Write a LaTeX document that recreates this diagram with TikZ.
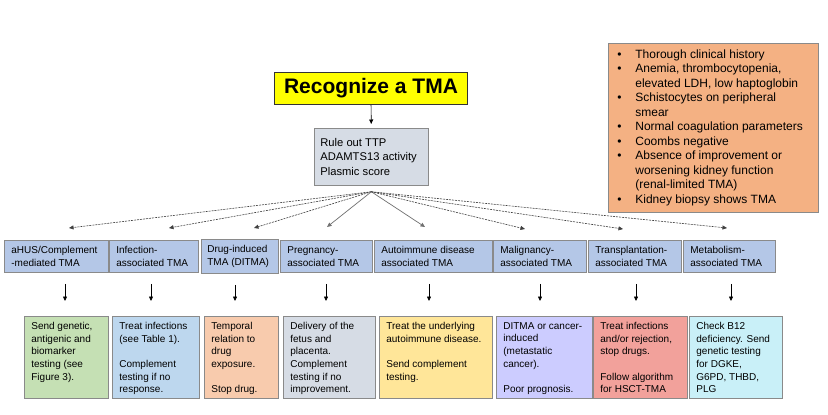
\documentclass[tikz,border=0pt]{standalone}
\usepackage{fontspec}
\setmainfont{Liberation Sans}
\usetikzlibrary{arrows.meta}
\definecolor{edge}{HTML}{8A8A8A}
\definecolor{catblue}{HTML}{B4C7E7}
\definecolor{rulefill}{HTML}{D6DCE5}
\definecolor{orangefill}{HTML}{F4B183}
\definecolor{recyellow}{HTML}{FFFF00}
\definecolor{cGreen}{HTML}{C5E0B4}
\definecolor{cBlue}{HTML}{BDD7EE}
\definecolor{cPeach}{HTML}{F8CBAD}
\definecolor{cGrey}{HTML}{D6DCE5}
\definecolor{cYellow}{HTML}{FFE699}
\definecolor{cLav}{HTML}{CCCCFF}
\definecolor{cRed}{HTML}{F2A19B}
\definecolor{cCyan}{HTML}{C9F0F8}
\definecolor{dashgray}{HTML}{404040}
\definecolor{solidgray}{HTML}{707070}
\newcommand\pbx[5]{\parbox[c][#2][#3]{#1}{\raggedright\leftskip=#4\relax #5}}
\newcommand\itm[1]{\par\hangindent=27pt\hangafter=1\noindent\makebox[27pt][l]{\hspace{9pt}\textbullet}#1}
\begin{document}
\begin{tikzpicture}[x=1pt,y=-1pt,
  boxframe/.style={draw=edge, line width=0.75pt, inner xsep=0pt, inner ysep=0pt, anchor=north west},
  catbox/.style={boxframe, fill=catblue, font=\fontsize{10}{13.5}\selectfont},
  resbox/.style={boxframe, inner ysep=6pt, font=\fontsize{10}{12.6}\selectfont},
  tipA/.style={-{Triangle[length=4.5pt,width=4pt]}},
  varrow/.style={draw=black, line width=0.7pt, tipA},
  darrow/.style={draw=dashgray, line width=0.6pt, dash pattern=on 2pt off 1pt, tipA},
  sarrow/.style={draw=solidgray, line width=0.7pt, tipA}
]
\fill[white] (0,0) rectangle (828,415);
\useasboundingbox (0,0) rectangle (828,415);

% top
\node[boxframe, draw=black!80, line width=1pt, fill=recyellow, minimum width=193pt, minimum height=32pt,
      font=\bfseries\fontsize{21}{24}\selectfont] (rec) at (274,72) {Recognize a TMA};
\node[boxframe, fill=rulefill, font=\fontsize{11.2}{14.5}\selectfont] (rule) at (314,128)
  {\pbx{114pt}{57pt}{c}{6pt}{Rule out TTP\\ADAMTS13 activity\\Plasmic score}};
\draw[varrow, shorten >=4pt] (rec) -- (rule);

% orange criteria box
\node[boxframe, fill=orangefill, font=\fontsize{12}{14.5}\selectfont] (crit) at (608,43)
  {\parbox[c][169pt][c]{210pt}{\rightskip=0pt plus 1fil\parfillskip=0pt plus 1fil
   \itm{Thorough clinical history}
   \itm{Anemia, thrombocytopenia,\\elevated LDH, low haptoglobin}
   \itm{Schistocytes on peripheral\\smear}
   \itm{Normal coagulation parameters}
   \itm{Coombs negative}
   \itm{Absence of improvement or\\worsening kidney function\\(renal-limited TMA)}
   \itm{Kidney biopsy shows TMA}\par}};

% category boxes
\node[catbox] (c1) at (4,240)   {\pbx{104pt}{32pt}{c}{7pt}{aHUS/Complement\\-mediated TMA}};
\node[catbox] (c2) at (109,240) {\pbx{89pt}{32pt}{c}{7pt}{Infection-\\associated TMA}};
\node[catbox] (c3) at (201,239) {\pbx{77pt}{34pt}{c}{6pt}{Drug-induced\\TMA (DITMA)}};
\node[catbox] (c4) at (280,240) {\pbx{92pt}{32pt}{c}{7pt}{Pregnancy-\\associated TMA}};
\node[catbox] (c5) at (374,240) {\pbx{118pt}{32pt}{c}{7pt}{Autoimmune disease\\associated TMA}};
\node[catbox] (c6) at (493,240) {\pbx{93pt}{32pt}{c}{7pt}{Malignancy-\\associated TMA}};
\node[catbox] (c7) at (588,240) {\pbx{93pt}{32pt}{c}{7pt}{Transplantation-\\associated TMA}};
\node[catbox] (c8) at (683,240) {\pbx{92pt}{32pt}{c}{7pt}{Metabolism-\\associated TMA}};

% result boxes
\node[resbox, fill=cGreen] (b1) at (24,316)
  {\pbx{84pt}{70pt}{t}{7pt}{Send genetic,\\antigenic and\\biomarker\\testing (see\\Figure 3).}};
\node[resbox, fill=cBlue] (b2) at (112,316)
  {\pbx{87pt}{70pt}{t}{7pt}{Treat infections\\(see Table 1).\\[12.6pt]Complement\\testing if no\\response.}};
\node[resbox, fill=cPeach] (b3) at (204,316)
  {\pbx{74pt}{70pt}{t}{7pt}{Temporal\\relation to\\drug\\exposure.\\[12.6pt]Stop drug.}};
\node[resbox, fill=cGrey] (b4) at (283,316)
  {\pbx{92pt}{70pt}{t}{7pt}{Delivery of the\\fetus and\\placenta.\\Complement\\testing if no\\improvement.}};
\node[resbox, fill=cYellow] (b5) at (379,316)
  {\pbx{113pt}{70pt}{t}{7pt}{Treat the underlying\\autoimmune disease.\\[12.6pt]Send complement\\testing.}};
\node[resbox, fill=cLav] (b6) at (496,316)
  {\pbx{96pt}{70pt}{t}{7pt}{DITMA or cancer-\\induced\\(metastatic\\cancer).\\[12.6pt]Poor prognosis.}};
\node[resbox, fill=cRed] (b7) at (593,316)
  {\pbx{94pt}{70pt}{t}{7pt}{Treat infections\\and/or rejection,\\stop drugs.\\[12.6pt]Follow algorithm\\for HSCT-TMA}};
\node[resbox, fill=cCyan] (b8) at (689,316)
  {\pbx{93pt}{70pt}{t}{7pt}{Check B12\\deficiency. Send\\genetic testing\\for DGKE,\\G6PD, THBD,\\PLG}};

% fan-out arrows from the rule-out box
\coordinate (hub) at ([yshift=-6pt]rule.south);
\coordinate (e1) at (69,228);
\coordinate (e2) at (169,228);
\coordinate (e3) at (254,228);
\coordinate (e4) at (327,227);
\coordinate (e5) at (425,227);
\coordinate (e6) at (525,229);
\coordinate (e7) at (623,229);
\coordinate (e8) at (727,228);
\draw[darrow] (hub) -- (e1);
\draw[darrow] (hub) -- (e2);
\draw[darrow] (hub) -- (e3);
\draw[sarrow] (hub) -- (e4);
\draw[sarrow] (hub) -- (e5);
\draw[darrow] (hub) -- (e6);
\draw[darrow] (hub) -- (e7);
\draw[darrow] (hub) -- (e8);

% vertical arrows category -> result
\coordinate (v1) at (65,0);
\coordinate (v2) at (151,0);
\coordinate (v3) at (235,0);
\coordinate (v4) at (326,0);
\coordinate (v5) at (429,0);
\coordinate (v6) at (540,0);
\coordinate (v7) at (636,0);
\coordinate (v8) at (731,0);
\foreach \i in {1,...,8}{
  \draw[varrow, shorten <=11pt, shorten >=15pt] (c\i.south -| v\i) -- (b\i.north -| v\i);
}
\end{tikzpicture}
\end{document}
